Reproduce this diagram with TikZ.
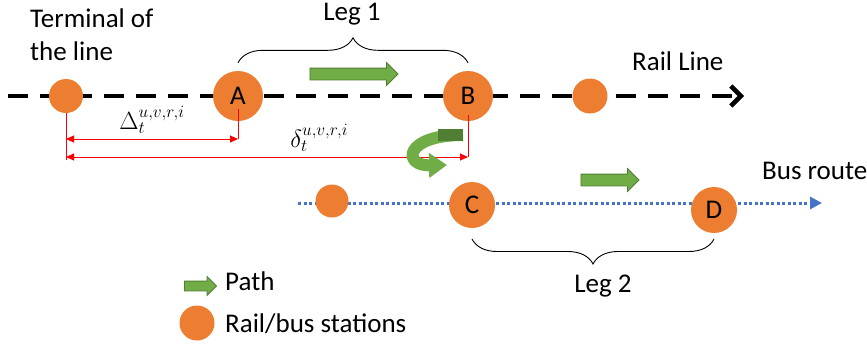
\documentclass[tikz,border=0pt]{standalone}
\usepackage{fontspec}
\setmainfont{Carlito}
\usepackage{tikz}
\usetikzlibrary{arrows.meta}
\usetikzlibrary{positioning}
\usetikzlibrary{calc}
\usetikzlibrary{shapes.arrows}
\usetikzlibrary{decorations.pathreplacing}
\definecolor{stationorange}{HTML}{ED7D31}
\definecolor{pathgreen}{HTML}{70AD47}
\definecolor{pathedge}{HTML}{507E32}
\definecolor{busblue}{HTML}{4472C4}
\tikzset{
	station/.style={circle, fill=stationorange, inner sep=0pt, font=\fontsize{27}{27}\selectfont},
	pathbox/.style={single arrow, draw=pathedge, fill=pathgreen, line width=0.8pt, inner sep=5.5pt, single arrow head extend=5.5pt},
	lbl/.style={font=\fontsize{27}{33}\selectfont, inner sep=0pt},
	brace/.style={decorate, decoration={brace, amplitude=25pt}, line width=0.9pt},
	meas/.style={red, line width=1pt},
}
\begin{document}
\begin{tikzpicture}[x=1pt, y=-1pt, >={Triangle[length=8pt,width=7pt]}]
		\useasboundingbox (0,0) rectangle (867,343);
		%coordinates
		\coordinate (railS)  at (8,96);
		\coordinate (railE)  at (744,96);
		\coordinate (busS)   at (298,203);
		\coordinate (busE)   at (822,203);
		\coordinate (mDelta) at (0,139);
		\coordinate (mdelta) at (0,157);
		\coordinate (legtwo) at (0,239);

		%lines
		\draw[line width=4.5pt, dash pattern=on 20pt off 12pt, -{Straight Barb[length=10pt,width=20pt]}] (railS) -- (railE);
		\draw[busblue, line width=3pt, dash pattern=on 3pt off 2.5pt, -{Triangle[length=12pt,width=12pt]}] (busS) -- (busE);

		%nodes
		\node[station, minimum size=34pt] (term)  at (66,96)   {};
		\node[station, minimum size=50pt] (A)     at (238,96)  {A};
		\node[station, minimum size=50pt] (B)     at (468,96)  {B};
		\node[station, minimum size=35pt] (rail4) at (590,96)  {};
		\node[station, minimum size=33pt] (bus1)  at (332,201) {};
		\node[station, minimum size=46pt] (C)     at (472,205) {C};
		\node[station, minimum size=46pt] (D)     at (714,210) {D};

		\node[lbl, anchor=base west, align=left] (termtxt) at (30,60) {Terminal of\\the line};
		\node[lbl, anchor=base] (legonetxt) at (352,20) {Leg 1};
		\node[lbl, anchor=base west] (railtxt) at (632,70) {Rail Line};
		\node[lbl, anchor=base west] (bustxt) at (762,179) {Bus route};
		\node[lbl, anchor=base] (legtwotxt) at (603,292) {Leg 2};

		%path arrows
		\node[pathbox, minimum height=88pt] (pone) at (351,74) {};
		\node[pathbox, minimum height=58pt] (ptwo) at (607,180) {};

		%braces
		\draw[brace] ([yshift=8pt]A.north) -- ([yshift=8pt]B.north);
		\draw[brace] (D.south |- legtwo) -- (C.south |- legtwo);

		%measures
		\draw[meas] (term.south) -- ([yshift=-3pt]term |- mdelta);
		\draw[meas] ([yshift=12pt]A.south) -- (A |- mDelta);
		\draw[meas] ([yshift=6pt]B.south) -- (B |- mdelta);
		\draw[meas, <->] (term |- mDelta) -- node[above=2pt, black, font=\fontsize{27}{27}\selectfont]{$\Delta_t^{u,v,r,i}$} (A |- mDelta);
		\draw[meas, <->] (term |- mdelta) -- node[above=2pt, black, pos=0.63, font=\fontsize{27}{27}\selectfont]{$\delta_t^{u,v,r,i}$} (B |- mdelta);

		%transfer
		\draw[pathgreen, line width=12pt, -{Triangle[length=18pt,width=24pt]}] (463,135) .. controls (404,135) and (402,166) .. (447,165);
		\draw[pathedge, line width=12pt] (463,135) -- (438,135);

		%legend
		\node[pathbox, minimum height=32pt, inner sep=4.5pt, single arrow head extend=4.5pt] (legpath) at (198,286) {};
		\node[lbl, anchor=base west] (legpathtxt) at (225,290) {Path};
		\node[station, minimum size=35pt] (legst) at (197,323) {};
		\node[lbl, anchor=base west] (legsttxt) at (225,332) {Rail/bus stations};
\end{tikzpicture}
\end{document}
